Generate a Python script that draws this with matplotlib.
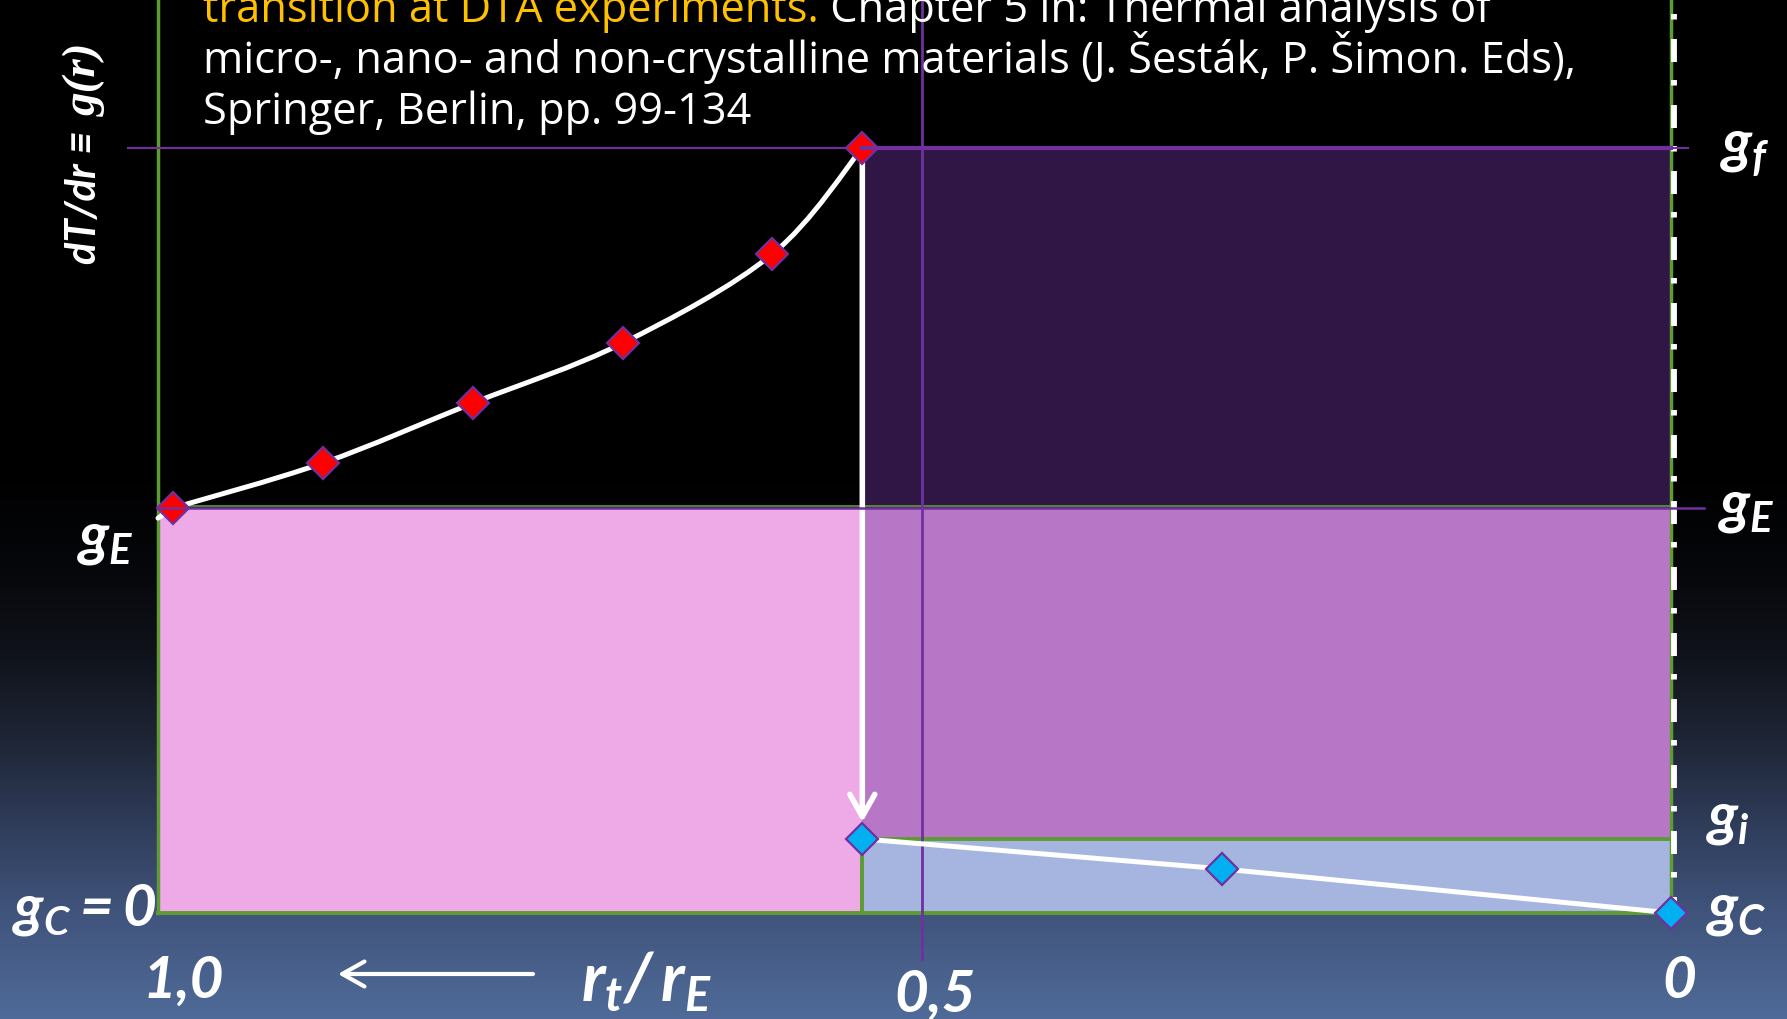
import numpy as np
import matplotlib
matplotlib.use("Agg")
import matplotlib.pyplot as plt
from matplotlib.path import Path
from matplotlib.patches import PathPatch, FancyArrowPatch
from matplotlib.transforms import offset_copy

plt.rcParams['lines.scale_dashes'] = False
plt.rcParams['mathtext.fontset'] = 'custom'
for key in ('mathtext.it', 'mathtext.rm', 'mathtext.bf', 'mathtext.sf'):
    plt.rcParams[key] = 'Lato:italic:bold'

# ---------------- data ----------------
# liquid-side branch g(r) (red diamonds)
r_liquid = [1.0, 0.9, 0.8, 0.7, 0.6, 0.54]
g_liquid = [1.0, 1.111, 1.259, 1.407, 1.627, 1.889]
# solid-side branch after the jump (cyan diamonds)
r_solid = [0.54, 0.30, 0.0]
g_solid = [0.183, 0.109, 0.0]
# start of the smooth curve at the frame edge
curve_start_r = 1.01
curve_start_g = 0.975

# characteristic levels and positions
g_C = 0.0
g_i = 0.183
g_E = 1.0
g_f = 1.889
r_transition = 0.54
r_half = 0.5
r_frame = 1.01

x_tick_values = [1.0, 0.5, 0.0]
x_tick_labels = ["1,0", "0,5", "0"]

# ---------------- style ----------------
W, H, DPI = 1787, 1020, 100
PINK = '#EDAAE6'
MID_PURPLE = '#B877C6'
DARK_PURPLE = '#2F1645'
LIGHT_BLUE = '#A6B5DF'
GREEN = '#5E9B32'
PURPLE = '#7030A0'
RED = '#FF0000'
CYAN = '#00B0F0'
ORANGE = '#FFC000'

fig = plt.figure(figsize=(W / DPI, H / DPI), dpi=DPI)

# background: black fading to slate blue at the bottom
bg = fig.add_axes([0, 0, 1, 1], zorder=0)
bg.axis('off')
rows = np.arange(H)
stops_y = [0, 470, 560, 650, 740, 830, 914, 1020]
stops_rgb = np.array([(0, 0, 0), (0, 0, 0), (5, 6, 9), (15, 18, 26),
                      (30, 37, 53), (48, 62, 92), (64, 84, 124),
                      (80, 107, 153)]) / 255.0
grad = np.stack([np.interp(rows, stops_y, stops_rgb[:, k]) for k in range(3)],
                axis=-1)[:, None, :]
bg.imshow(grad, aspect='auto', extent=[0, 1, 0, 1], interpolation='bilinear')
bg.set_xlim(0, 1)
bg.set_ylim(0, 1)

ax = fig.add_axes([0, 0, 1, 1], zorder=1)
ax.axis('off')
ax.set_xlim(1.11545, -0.07708)
ax.set_ylim(-0.26173, 2.25679)
y_top = ax.get_ylim()[1]

# filled regions
ax.fill_between([r_transition, r_frame], g_C, g_E, color=PINK, lw=0, zorder=1)
ax.fill_between([0, r_transition], g_E, g_f, color=DARK_PURPLE, lw=0, zorder=1)
ax.fill_between([0, r_transition], g_i, g_E, color=MID_PURPLE, lw=0, zorder=1)
ax.fill_between([0, r_transition], g_C, g_i, color=LIGHT_BLUE, lw=0, zorder=1)

# green frame
ax.plot([r_frame, r_frame], [g_C, y_top], color=GREEN, lw=2.5, zorder=2)
ax.plot([0, 0], [g_C, y_top], color=GREEN, lw=2.5, zorder=2)
ax.plot([r_frame, 0], [g_C, g_C], color=GREEN, lw=2.8, zorder=2,
        solid_capstyle='projecting')
ax.plot([r_transition, 0], [g_i, g_i], color=GREEN, lw=2.8, zorder=2)
ax.plot([r_transition, r_transition], [g_C, g_i], color=GREEN, lw=2.8, zorder=2)
ax.plot([r_frame, 0], [g_E, g_E], color=GREEN, lw=1.2, zorder=2,
        transform=offset_copy(ax.transData, fig, x=0, y=1.5, units='dots'))

# white dash-dot line along the right edge
ax.plot([0, 0], [y_top, -0.015], color='white', lw=4.2, zorder=3,
        linestyle=(36.7, (3.96, 14.04, 16.56, 12.96)), dash_capstyle='butt',
        transform=offset_copy(ax.transData, fig, x=3, y=0, units='dots'))

# purple reference lines
ax.plot([r_frame + 0.02, 0 - 0.011], [g_f, g_f], color=PURPLE, lw=1.5, zorder=3)
ax.plot([r_transition, 0], [g_f, g_f], color=PURPLE, lw=3.0, zorder=6)
ax.plot([r_frame, 0 - 0.0217], [g_E, g_E], color=PURPLE, lw=1.8, zorder=6)
ax.plot([r_half, r_half], [y_top, -0.1136], color=PURPLE, lw=2.0, zorder=3)

# smooth white curve through the liquid branch
pts = np.column_stack([r_liquid, g_liquid])
verts = [(curve_start_r, curve_start_g), tuple(pts[0])]
codes = [Path.MOVETO, Path.LINETO]
n = len(pts)
for i in range(n - 1):
    p0 = pts[i - 1] if i > 0 else pts[i]
    p1, p2 = pts[i], pts[i + 1]
    p3 = pts[i + 2] if i + 2 < n else pts[i + 1]
    c1 = p1 + (p2 - p0) / 6.0
    c2 = p2 - (p3 - p1) / 6.0
    verts += [tuple(c1), tuple(c2), tuple(p2)]
    codes += [Path.CURVE4] * 3
ax.add_patch(PathPatch(Path(verts, codes), fill=False, ec='white', lw=3.6,
                       zorder=4, capstyle='round'))

# jump from g_f down to g_i
ax.add_patch(FancyArrowPatch(posA=(r_transition, g_f), posB=(r_transition, g_i),
                             arrowstyle='->,head_length=16,head_width=9',
                             mutation_scale=1, shrinkA=0, shrinkB=12,
                             color='white', lw=4, zorder=4))

# solid branch
ax.plot(r_solid, g_solid, color='white', lw=3.6, zorder=4)

# markers
ax.plot(r_liquid, g_liquid, ls='none', marker='D', ms=16, mfc=RED,
        mec=PURPLE, mew=1.6, zorder=5)
ax.plot(r_solid, g_solid, ls='none', marker='D', ms=16, mfc=CYAN,
        mec=PURPLE, mew=1.6, zorder=5)


# ---------------- text ----------------
def fig_text(xpx, ypx, s, **kw):
    return fig.text(xpx / W, 1 - ypx / H, s, **kw)


label_kw = dict(color='white', ha='left', va='baseline', zorder=10)
bi = dict(family=['Lato', 'DejaVu Sans'], weight='bold', style='italic')

# x tick labels
tick_offsets = [(-31, -84), (-28, -98), (-9, -84)]
for val, lab, (dx, dy) in zip(x_tick_values, x_tick_labels, tick_offsets):
    ax.annotate(lab, xy=(val, g_C), xytext=(dx, dy), textcoords='offset pixels',
                fontsize=42, **label_kw, **bi)

fig_text(581, 1001, r'$r_t/\,r_E$', fontsize=48, **label_kw)
ax.annotate('', xy=(338, H - 975), xytext=(533, H - 975),
            xycoords='figure pixels', textcoords='figure pixels',
            arrowprops=dict(arrowstyle='->,head_length=16,head_width=9',
                            mutation_scale=1, lw=3, color='white',
                            shrinkA=0, shrinkB=0))

# level labels
fig_text(77, 555, r'$g_E$', fontsize=43, **label_kw)
fig_text(12, 926, r'$g_C=0$', fontsize=42, **label_kw)
fig_text(1720, 163, r'$g_f$', fontsize=43, **label_kw)
fig_text(1718, 523, r'$g_E$', fontsize=43, **label_kw)
fig_text(1706, 835, r'$g_i$', fontsize=43, **label_kw)
fig_text(1706, 926, r'$g_C$', fontsize=43, **label_kw)

renderer = fig.canvas.get_renderer()

# vertical axis title
t_left = fig_text(96, 264, 'dT/dr \u2261', rotation=90, rotation_mode='anchor',
                  fontsize=30, **label_kw, **bi)
bb = t_left.get_window_extent(renderer)
fig.text(96 / W, (bb.y1 + 14) / H, 'g(r)', rotation=90, rotation_mode='anchor',
         fontsize=34, color='white', ha='left', va='baseline',
         family=['Liberation Serif', 'DejaVu Serif'], weight='bold',
         style='italic', zorder=10)

# reference text at the top
ref_kw = dict(family=['Open Sans', 'DejaVu Sans'], ha='left', va='baseline',
              zorder=10)
line1a = "transition at DTA experiments."
line1b = " Chapter 5 in: Thermal analysis of"
line2 = "micro-, nano- and non-crystalline materials (J. \u0160est\u00e1k, P. \u0160imon. Eds),"
line3 = "Springer, Berlin, pp. 99-134"

t2 = fig_text(203, 73, line2, fontsize=26, color='white', **ref_kw)
fs = 26 * 1375 / t2.get_window_extent(renderer).width
t2.set_fontsize(fs)
t3 = fig_text(203, 124, line3, fontsize=fs, color='white', **ref_kw)
t1a = fig_text(203, 22, line1a, fontsize=fs, color=ORANGE, **ref_kw)
x1 = t1a.get_window_extent(renderer).x1
fig.text(x1 / W, 1 - 22 / H, line1b, fontsize=fs, color='white', **ref_kw)

fig.savefig('out.png', dpi=DPI)
